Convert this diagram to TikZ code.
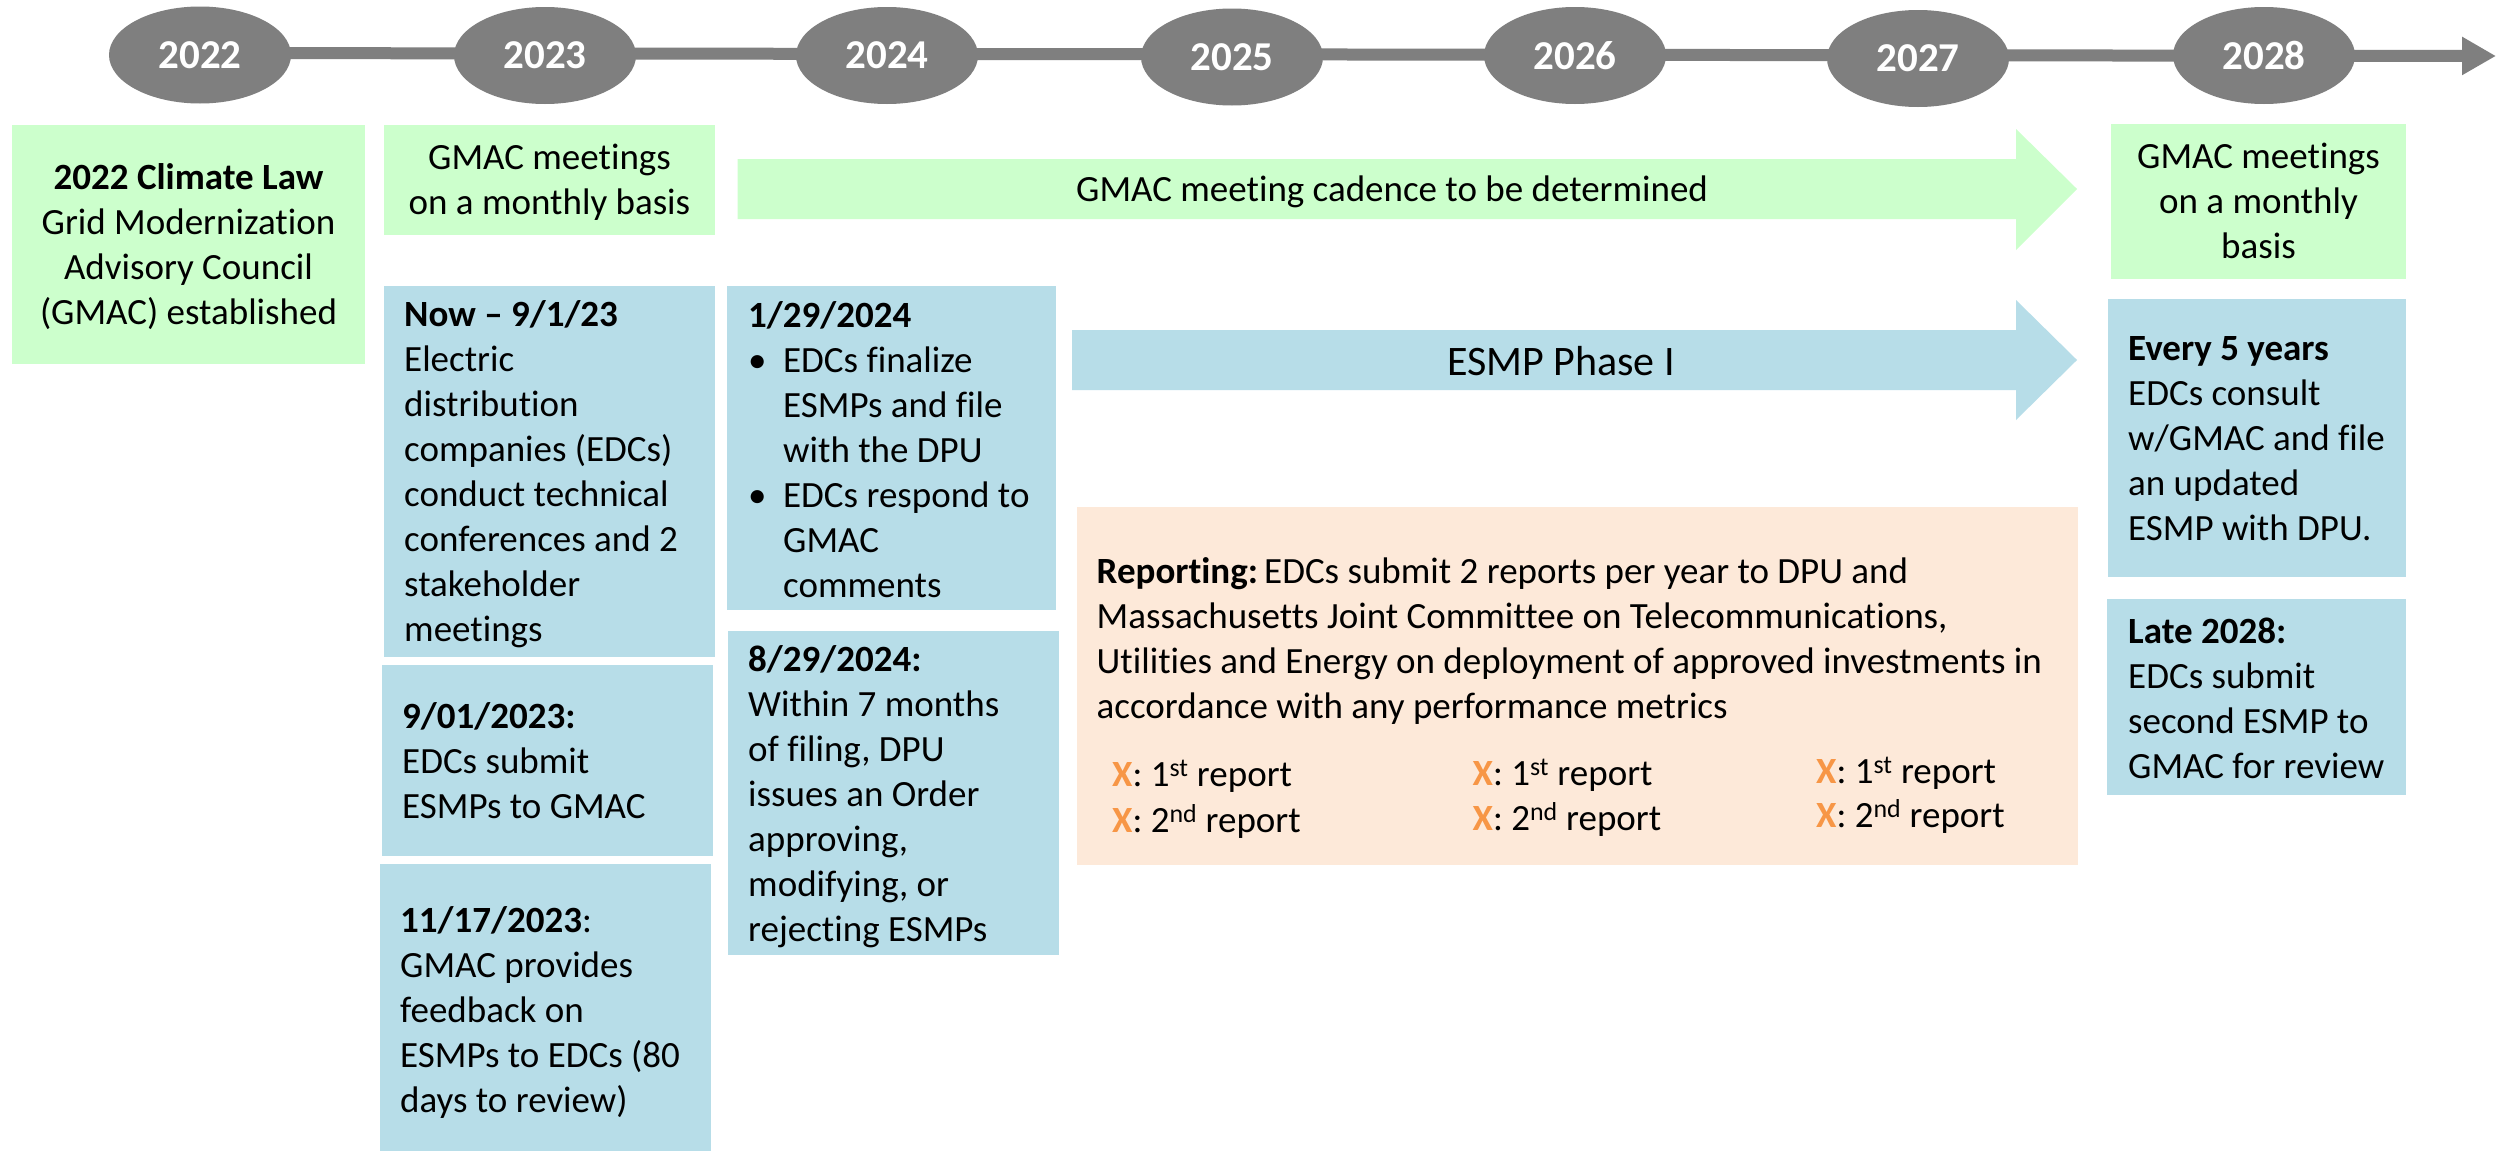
\documentclass[tikz,border=0pt]{standalone}
\usepackage{fontspec}
\setmainfont{Carlito}[Ligatures={NoCommon,NoContextual}]
\usetikzlibrary{shapes.geometric,arrows.meta,backgrounds}
\definecolor{gfill}{HTML}{CCFFCC}
\definecolor{bfill}{HTML}{B7DDE8}
\definecolor{pfill}{HTML}{FDE9D9}
\definecolor{tgrey}{HTML}{7F7F7F}
\definecolor{xorange}{HTML}{F79646}
\newcommand\txtsz{\fontsize{37}{45}\selectfont}
\begin{document}
\begin{tikzpicture}[x=1pt,y=-1pt,
 box/.style={inner sep=0pt, outer sep=0pt, anchor=north west},
 yearnode/.style={ellipse, fill=tgrey, minimum width=182pt, minimum height=97pt, inner sep=0pt, text=white, font=\fontsize{41}{41}\selectfont\bfseries},
 txt/.style={inner sep=0pt, anchor=north west, align=left, font=\txtsz},
 ctxt/.style={inner sep=0pt, anchor=north, align=center, font=\txtsz},
 xlab/.style={inner sep=0pt, anchor=base west, font=\txtsz},
]
\useasboundingbox (0,0) rectangle (2496,1151);

% timeline years
\node[yearnode] (y2022) at (200,55) {2022};
\node[yearnode] (y2023) at (545,55.5) {2023};
\node[yearnode] (y2024) at (887,55.5) {2024};
\node[yearnode] (y2025) at (1232,57) {2025};
\node[yearnode] (y2026) at (1575,55.5) {2026};
\node[yearnode] (y2027) at (1918,58.5) {2027};
\node[yearnode] (y2028) at (2264,55.5) {2028};
\coordinate (tlstart) at (200,53);
\coordinate (tlend) at (2496,56);

% boxes
\node[box, fill=gfill, minimum width=353pt, minimum height=239pt] (bA) at (12,125) {};
\node[box, fill=gfill, minimum width=331pt, minimum height=110pt] (bB) at (384,125) {};
\node[box, fill=bfill, minimum width=331pt, minimum height=371pt] (bC) at (384,286) {};
\node[box, fill=bfill, minimum width=331pt, minimum height=191pt] (bD) at (382,665) {};
\node[box, fill=bfill, minimum width=331pt, minimum height=287pt] (bE) at (380,864) {};
\node[box, fill=bfill, minimum width=329pt, minimum height=324pt] (bF) at (727,286) {};
\node[box, fill=bfill, minimum width=331pt, minimum height=324pt] (bG) at (728,631) {};
\node[box, fill=pfill, minimum width=1001pt, minimum height=358pt] (bH) at (1077,507) {};
\node[box, fill=gfill, minimum width=295pt, minimum height=155pt] (bI) at (2111,124) {};
\node[box, fill=bfill, minimum width=298pt, minimum height=278pt] (bJ) at (2108,299) {};
\node[box, fill=bfill, minimum width=299pt, minimum height=196pt] (bK) at (2107,599) {};

% block arrows
\fill[gfill] (737.5,159) -- (2016,159) -- (2016,129) -- (2077,189) -- (2016,250) -- (2016,219) -- (737.5,219) -- cycle;
\node[inner sep=0pt, anchor=base, font=\txtsz] (cad) at (1392,201) {GMAC meeting cadence to be determined};
\fill[bfill] (1072,330) -- (2016,330) -- (2016,300) -- (2077,360) -- (2016,420) -- (2016,390) -- (1072,390) -- cycle;
\node[inner sep=0pt, anchor=base, font=\fontsize{42}{50}\selectfont] (esmp) at (1561,375) {ESMP Phase I};

% texts
\node[ctxt] (tA) at (188.5,157.5) {\strut\textbf{2022 Climate Law}\\Grid Modernization\\Advisory Council\\(GMAC) established};
\node[ctxt] (tB) at (549.5,137.5) {\strut GMAC meetings\\on a monthly basis};
\node[txt] (tC) at (404,294.5) {\strut\textbf{Now – 9/1/23}\\Electric\\distribution\\companies (EDCs)\\conduct technical\\conferences and 2\\stakeholder\\meetings};
\node[txt] (tD) at (402,696.5) {\strut\textbf{9/01/2023:}\\EDCs submit\\ESMPs to GMAC};
\node[txt] (tE) at (400,900.5) {\strut\textbf{11/17/2023}:\\GMAC provides\\feedback on\\ESMPs to EDCs (80\\days to review)};
\node[txt] (tF) at (748,295.5) {\strut\textbf{1/29/2024}\\
\makebox[35pt][l]{•}EDCs finalize\\
\hspace*{35pt}ESMPs and file\\
\hspace*{35pt}with the DPU\\
\makebox[35pt][l]{•}EDCs respond to\\
\hspace*{35pt}GMAC\\
\hspace*{35pt}comments};
\node[txt] (tG) at (748,639.5) {\strut\textbf{8/29/2024:}\\Within 7 months\\of filing, DPU\\issues an Order\\approving,\\modifying, or\\rejecting ESMPs};
\node[txt] (tH) at (1096.5,551.5) {\strut\textbf{Reporting:}\,EDCs submit 2 reports per year to DPU and\\Massachusetts Joint Committee on Telecommunications,\\Utilities and Energy on deployment of approved investments in\\accordance with any performance metrics};
\node[xlab] (x11) at (1112,786) {\textcolor{xorange}{\textbf{X}}: 1\textsuperscript{st} report};
\node[xlab] (x12) at (1112,832) {\textcolor{xorange}{\textbf{X}}: 2\textsuperscript{nd} report};
\node[xlab] (x21) at (1472.5,785) {\textcolor{xorange}{\textbf{X}}: 1\textsuperscript{st} report};
\node[xlab] (x22) at (1472.5,830) {\textcolor{xorange}{\textbf{X}}: 2\textsuperscript{nd} report};
\node[xlab] (x31) at (1816,783) {\textcolor{xorange}{\textbf{X}}: 1\textsuperscript{st} report};
\node[xlab] (x32) at (1816,827) {\textcolor{xorange}{\textbf{X}}: 2\textsuperscript{nd} report};
\node[ctxt] (tI) at (2258.5,136.5) {\strut GMAC meetings\\on a monthly\\basis};
\node[txt] (tJ) at (2128,328.5) {\strut\textbf{Every 5 years}\\EDCs consult\\w/GMAC and file\\an updated\\ESMP with DPU.};
\node[txt] (tK) at (2128,612) {\strut\textbf{Late 2028:}\\EDCs submit\\second ESMP to\\GMAC for review};

\begin{scope}[on background layer]
\fill[white] (0,0) rectangle (2496,1151);
\draw[tgrey, line width=12pt, -{Triangle[length=34pt, width=36pt]}] (tlstart) -- (tlend);
\end{scope}
\end{tikzpicture}
\end{document}
